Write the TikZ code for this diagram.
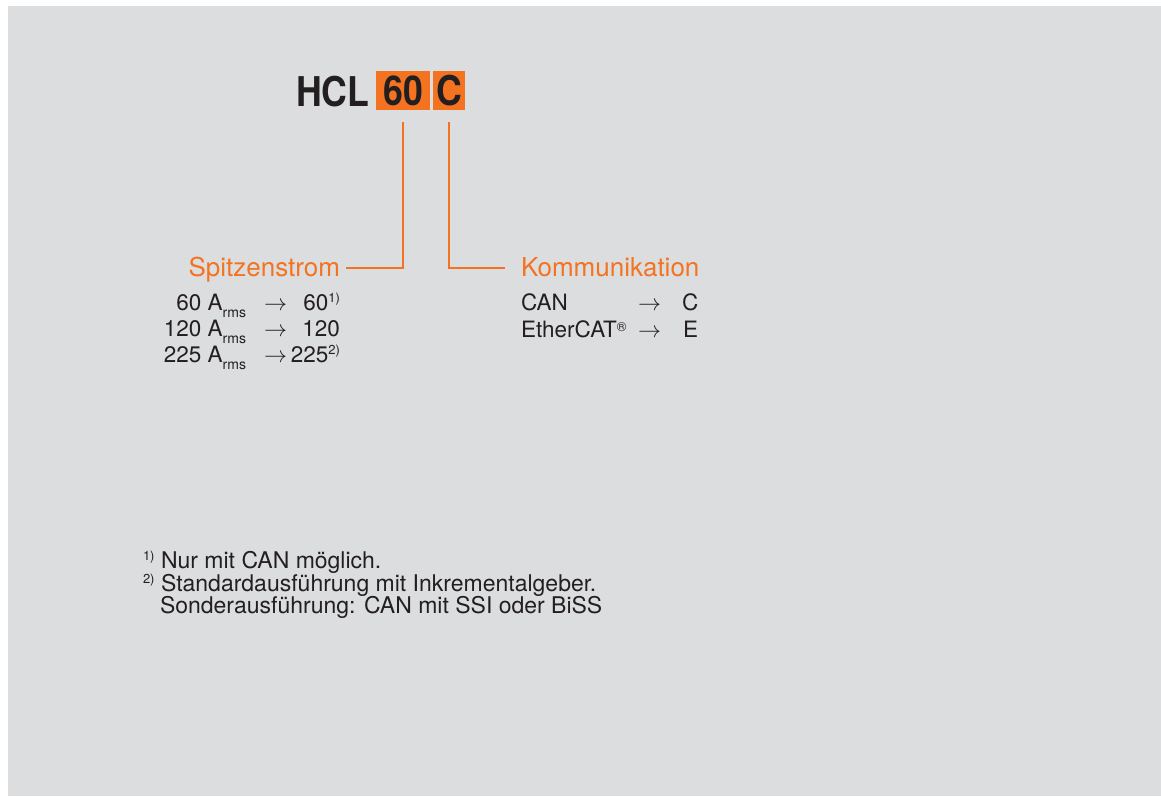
\documentclass[tikz,border=0pt]{standalone}
\usepackage{fontspec}
\setmainfont{TeX Gyre Heros}
\definecolor{bg}{HTML}{DCDDDF}
\definecolor{org}{HTML}{F47320}
\definecolor{ink}{HTML}{231F20}
\newcommand{\fs}[1]{\fontsize{#1}{#1}\selectfont}
\newcommand{\supx}[1]{\raisebox{8pt}{\fs{13}#1}}
\newcommand{\subrms}{\raisebox{-7pt}{\fs{14}rms}}
\newcommand{\arr}{\resizebox{23pt}{!}{$\rightarrow$}}
\newcommand{\cond}[1]{\scalebox{0.87}[1]{#1}}
\tikzset{
  every node/.style={inner sep=0pt, outer sep=0pt, text=ink},
  big/.style={font=\fs{41}\bfseries},
  obox/.style={fill=org, minimum height=39pt, font=\fs{41}\bfseries},
  head/.style={font=\fs{26}, text=org},
  row/.style={font=\fs{22.5}},
  foot/.style={font=\fs{23}},
  conn/.style={draw=org, line width=2.4pt}
}
\begin{document}
\begin{tikzpicture}[x=1pt,y=-1pt]
\useasboundingbox (0,0) rectangle (1161,796);
\fill[bg] (8,6) rectangle (1161,796);

\node[big, anchor=base west] (hcl) at (296,106) {\cond{HCL}};
\node[obox, minimum width=54pt] (b60) at (403,90.5) {\cond{60}};
\node[obox, minimum width=32pt] (bc) at (449,90.5) {\cond{C}};

\node[head, anchor=base east] (spitz) at (340,276) {Spitzenstrom};
\node[head, anchor=base west] (komm) at (521,276) {Kommunikation};

\draw[conn] ([yshift=-12pt]b60.south) |- ([xshift=6pt,yshift=8pt]spitz.base east);
\draw[conn] ([yshift=-12pt]bc.south) |- ([xshift=-16pt,yshift=8pt]komm.base west);

% Spitzenstrom rows
\node[row, anchor=base east] (l1) at (246,310) {60 A\subrms};
\node[row, anchor=base west] (a1) at (264,310) {\arr};
\node[row, anchor=base east] (v1) at (340,310) {60\supx{1)}};
\node[row, anchor=base east] (l2) at (246,336) {120 A\subrms};
\node[row, anchor=base west] (a2) at (264,336) {\arr};
\node[row, anchor=base east] (v2) at (340,336) {120};
\node[row, anchor=base east] (l3) at (246,362) {225 A\subrms};
\node[row, anchor=base west] (a3) at (264,362) {\arr};
\node[row, anchor=base east] (v3) at (340,362) {225\supx{2)}};

% Kommunikation rows
\node[row, anchor=base west] (k1) at (521,310) {CAN};
\node[row, anchor=base west] (ka1) at (638,310) {\arr};
\node[row, anchor=base west] (kv1) at (682,310) {C};
\node[row, anchor=base west] (k2) at (521,337) {EtherCAT\raisebox{6pt}{\fs{13}®}};
\node[row, anchor=base west] (ka2) at (638,337) {\arr};
\node[row, anchor=base west] (kv2) at (683,337) {E};

% footnotes
\node[foot, anchor=base west] (f1m) at (143,568) {\supx{1)}};
\node[foot, anchor=base west] (f1) at (161,568) {Nur mit CAN möglich.};
\node[foot, anchor=base west] (f2m) at (143,591) {\supx{2)}};
\node[foot, anchor=base west] (f2) at (161,591) {Standardausführung mit Inkrementalgeber.};
\node[foot, anchor=base west] (f3) at (160,613) {Sonderausführung: CAN mit SSI oder BiSS};
\end{tikzpicture}
\end{document}
